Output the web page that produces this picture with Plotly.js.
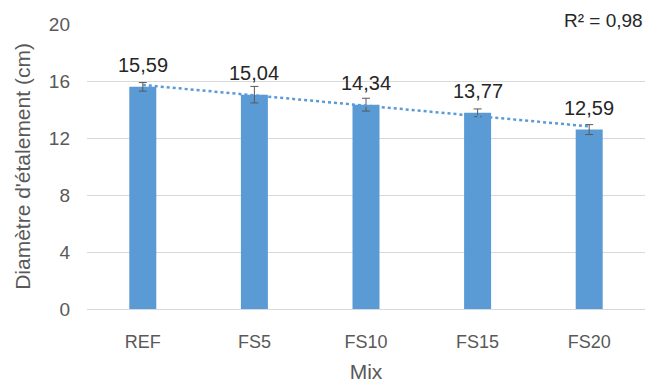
<!DOCTYPE html>
<html>
<head>
<meta charset="utf-8">
<script src="https://cdn.plot.ly/plotly-3.0.1.min.js"></script>
<style>html,body{margin:0;padding:0;background:#fff;}#chart{width:648px;height:383px;}</style>
</head>
<body>
<div id="chart"></div>
<script>
const categories = ["REF", "FS5", "FS10", "FS15", "FS20"];
const diameters = [15.59, 15.04, 14.34, 13.77, 12.59];
const errors = [0.30, 0.58, 0.45, 0.27, 0.35];
const yTicks = [0, 4, 8, 12, 16, 20];
const r2Text = "R² = 0,98";

const FONT = "Liberation Sans, Arial, sans-serif";
const BLUE = "#5b9bd5";

// linear trendline (least squares) over category index
const n = diameters.length;
const xs = diameters.map((_, i) => i + 1);
const mx = xs.reduce((a, b) => a + b, 0) / n;
const my = diameters.reduce((a, b) => a + b, 0) / n;
let sxy = 0, sxx = 0;
for (let i = 0; i < n; i++) { sxy += (xs[i] - mx) * (diameters[i] - my); sxx += (xs[i] - mx) ** 2; }
const slope = sxy / sxx;
const intercept = my - slope * mx;
const trendY = xs.map(x => intercept + slope * x);

const bars = {
  type: "bar",
  x: categories,
  y: diameters,
  marker: { color: BLUE },
  error_y: { type: "data", array: errors, visible: true, color: "#595959", thickness: 1, width: 4 },
  hoverinfo: "x+y",
  showlegend: false
};

const trend = {
  type: "scatter",
  mode: "lines",
  x: categories,
  y: trendY,
  line: { color: BLUE, width: 2.5, dash: "dot" },
  showlegend: false,
  hoverinfo: "skip"
};

const annotations = categories.map((c, i) => ({
  x: c, y: diameters[i], xref: "x", yref: "y",
  text: diameters[i].toFixed(2).replace(".", ","),
  showarrow: false, yanchor: "middle", yshift: 22,
  font: { family: FONT, size: 20, color: "#262626" }
}));
annotations.push({
  xref: "paper", yref: "paper", x: 1, y: 1, xanchor: "right", yanchor: "middle", yshift: 4,
  text: r2Text, showarrow: false,
  font: { family: FONT, size: 19, color: "#262626" }
});

const layout = {
  width: 648, height: 383,
  margin: { l: 87, r: 3, t: 24, b: 74, pad: 0 },
  paper_bgcolor: "#ffffff", plot_bgcolor: "#ffffff",
  bargap: 0.758,
  font: { family: FONT, color: "#595959" },
  xaxis: {
    type: "category",
    showgrid: false, showline: false, zeroline: false,
    ticks: "", ticklabelstandoff: 20,
    tickfont: { family: FONT, size: 18, color: "#595959" },
    title: { text: "Mix", font: { family: FONT, size: 21, color: "#595959" }, standoff: 13 }
  },
  yaxis: {
    range: [0, 20], tickvals: yTicks, ticktext: yTicks.map(String),
    showgrid: true, gridcolor: "#d9d9d9", gridwidth: 1,
    zeroline: true, zerolinecolor: "#d9d9d9", zerolinewidth: 1,
    showline: false, ticks: "", ticklabelstandoff: 16,
    tickfont: { family: FONT, size: 19, color: "#595959" },
    title: { text: "Diamètre d'étalement (cm)", font: { family: FONT, size: 21, color: "#595959" }, standoff: 12 }
  },
  annotations: annotations,
  showlegend: false
};

Plotly.newPlot("chart", [bars, trend], layout, { displayModeBar: false, staticPlot: true });
</script>
</body>
</html>
